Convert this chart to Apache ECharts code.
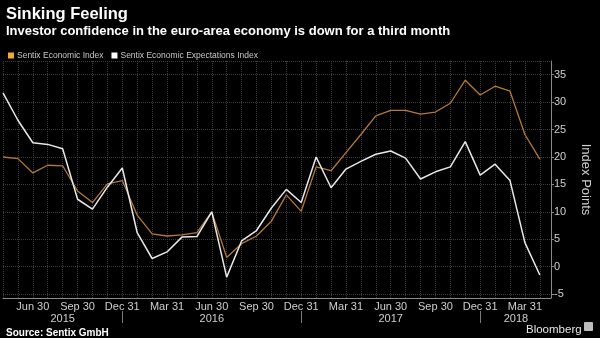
<!DOCTYPE html>
<html>
<head>
<meta charset="utf-8">
<script src="https://cdn.jsdelivr.net/npm/echarts@6/dist/echarts.min.js"></script>
<style>
  html, body { margin: 0; padding: 0; background: #000; }
  #chart { width: 600px; height: 338px; }
</style>
</head>
<body>
<div id="chart"></div>
<script>
// Monthly readings, April 2015 through April 2018 (index 0 = Apr 2015)
const economicIndex = [20.0, 19.7, 17.1, 18.5, 18.4, 13.8, 11.7, 15.1, 15.7, 9.4, 6.0, 5.6, 5.8, 6.2, 10.0, 1.7, 4.2, 5.6, 8.3, 13.1, 10.1, 18.2, 17.5, 20.8, 24.1, 27.5, 28.5, 28.5, 27.8, 28.2, 29.8, 34.0, 31.3, 32.9, 32.0, 24.1, 19.6];
const expectationsIndex = [31.7, 26.7, 22.6, 22.3, 21.5, 12.3, 10.5, 14.5, 18.0, 6.2, 1.5, 2.7, 5.4, 5.5, 10.0, -1.9, 4.7, 6.6, 10.7, 14.1, 11.7, 20.0, 14.4, 17.8, 19.2, 20.5, 21.1, 19.8, 16.0, 17.3, 18.2, 22.8, 16.7, 18.7, 15.7, 4.4, -1.5];

// Quarter-end tick labels (month index -> label)
const quarterIdx = [2, 5, 8, 11, 14, 17, 20, 23, 26, 29, 32, 35];
const quarterLabels = ['Jun 30', 'Sep 30', 'Dec 31', 'Mar 31', 'Jun 30', 'Sep 30', 'Dec 31', 'Mar 31', 'Jun 30', 'Sep 30', 'Dec 31', 'Mar 31'];

// Year labels centred on each year's span, separators at year ends
const yearPos = [4, 14, 26, 34.4];
const yearLabels = ['2015', '2016', '2017', '2018'];
const yearBreaks = [8, 20, 32];

const seriesNames = ['Sentix Economic Index', 'Sentix Economic Expectations Index'];

const FONT = '"Liberation Sans", Arial, sans-serif';
const xMin = 0, xMax = 36.75;

const chart = echarts.init(document.getElementById('chart'), null, { renderer: 'canvas' });

chart.setOption({
  backgroundColor: '#000',
  animation: false,
  title: [
    {
      text: 'Sinking Feeling',
      left: 1, top: 1,
      textStyle: { color: '#fff', fontFamily: FONT, fontWeight: 'bold', fontSize: 16.5 }
    },
    {
      text: 'Investor confidence in the euro-area economy is down for a third month',
      left: 1, top: 20,
      textStyle: { color: '#fff', fontFamily: FONT, fontWeight: 'bold', fontSize: 13 }
    },
    {
      text: 'Source: Sentix GmbH',
      left: 1, top: 323,
      textStyle: { color: '#fff', fontFamily: FONT, fontWeight: 'bold', fontSize: 10 }
    },
    {
      text: 'Bloomberg',
      left: 521, top: 319,
      textStyle: { color: '#e6e6e6', fontFamily: FONT, fontWeight: 'normal', fontSize: 11.5 }
    }
  ],
  legend: {
    left: 3, top: 46,
    itemWidth: 6, itemHeight: 6, itemGap: 8,
    icon: 'rect',
    textStyle: { color: '#c8c8c8', fontFamily: FONT, fontSize: 8.5, padding: [0, 0, 0, -2] },
    data: [
      { name: seriesNames[0], itemStyle: { color: '#f5a442' } },
      { name: seriesNames[1], itemStyle: { color: '#ffffff' } }
    ]
  },
  grid: { left: 0, right: 40, top: 61, bottom: 40, containLabel: false },
  xAxis: [
    {
      type: 'value', min: xMin, max: xMax, interval: 1,
      axisLine: { show: true, onZero: false, lineStyle: { color: '#8a8a8a', width: 1 } },
      axisTick: { show: false },
      splitLine: { show: true, lineStyle: { color: '#3c3c3c', type: 'dotted', width: 1 } },
      axisLabel: {
        color: '#cfcfcf', fontFamily: FONT, fontSize: 11, margin: 3,
        showMinLabel: true, showMaxLabel: false,
        formatter: function (v) {
          const k = quarterIdx.indexOf(v);
          return k >= 0 ? quarterLabels[k] : '';
        }
      }
    },
    {
      type: 'value', min: xMin, max: xMax, position: 'bottom', offset: 13,
      axisLine: { show: false, onZero: false },
      axisTick: { show: true, customValues: yearBreaks, length: 12, lineStyle: { color: '#7a7a7a' } },
      splitLine: { show: false },
      axisLabel: {
        customValues: yearPos,
        color: '#cfcfcf', fontFamily: FONT, fontSize: 11, margin: 2,
        formatter: function (v) {
          const k = yearPos.indexOf(v);
          return k >= 0 ? yearLabels[k] : '';
        }
      }
    }
  ],
  yAxis: {
    type: 'value', position: 'right', min: -5.7, max: 37.5, splitNumber: 9,
    name: 'Index Points', nameLocation: 'middle', nameGap: 28, nameRotate: -90,
    nameTextStyle: { color: '#cfcfcf', fontFamily: FONT, fontSize: 13 },
    axisLine: { show: true, onZero: false, lineStyle: { color: '#8a8a8a', width: 1 } },
    axisTick: { show: true, length: 3, inside: false, lineStyle: { color: '#8a8a8a' } },
    splitLine: { show: true, lineStyle: { color: '#3c3c3c', type: 'dotted', width: 1 } },
    axisLabel: {
      color: '#cfcfcf', fontFamily: FONT, fontSize: 11, margin: 3,
      showMinLabel: false, showMaxLabel: false
    }
  },
  series: [
    {
      name: seriesNames[0], type: 'line', xAxisIndex: 0,
      data: economicIndex.map((v, i) => [i, v]),
      showSymbol: false, symbol: 'none',
      lineStyle: { color: '#b57838', width: 1.3 },
      itemStyle: { color: '#f5a442' },
      z: 2
    },
    {
      name: seriesNames[1], type: 'line', xAxisIndex: 0,
      data: expectationsIndex.map((v, i) => [i, v]),
      showSymbol: false, symbol: 'none',
      lineStyle: { color: '#e8e8e8', width: 1.5 },
      itemStyle: { color: '#ffffff' },
      z: 3
    }
  ],
  graphic: [
    {
      type: 'rect', left: 584, top: 322,
      shape: { width: 9, height: 9, r: 1 },
      style: { fill: '#bdbdbd' }
    }
  ]
});
</script>
</body>
</html>
